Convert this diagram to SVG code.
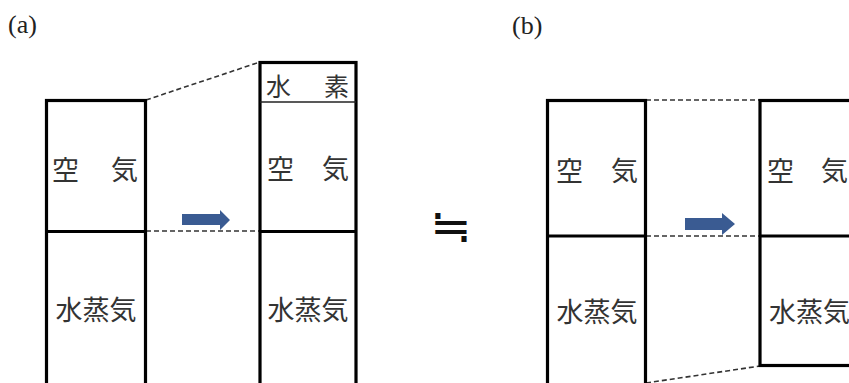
<svg xmlns="http://www.w3.org/2000/svg" width="849" height="383" viewBox="0 0 849 383">
<style>
.box{fill:none;stroke:#000;stroke-width:3.2}
.thin{stroke:#222;stroke-width:1.4}
.dash{fill:none;stroke:#333;stroke-width:1.6;stroke-dasharray:5 3}
.jp{font-family:"Noto Sans CJK JP","Noto Sans CJK SC",sans-serif;font-size:27px;fill:#333}
.lbl{font-family:"Liberation Serif",serif;font-size:26px;fill:#222}
.arr{fill:#3a5b92}
</style>
<rect width="849" height="383" fill="#fff"/>
<text class="lbl" x="8" y="33">(a)</text>
<text class="lbl" x="512" y="34">(b)</text>
<g id="connectors">
<line class="dash" x1="146" y1="100" x2="260" y2="62"/>
<line class="dash" x1="146" y1="231" x2="260" y2="231"/>
<line class="dash" x1="646" y1="100" x2="760" y2="100"/>
<line class="dash" x1="646" y1="236" x2="760" y2="236"/>
<line class="dash" x1="646" y1="383" x2="760" y2="366"/>
<path class="arr" d="M182 214 H220 V210 L230 220 L220 230 V225 H182 Z"/>
<path class="arr" d="M685 218 H722 V213 L735 224 L722 235 V230 H685 Z"/>
</g>
<g id="a-before">
<rect class="box" x="46.5" y="100.5" width="99" height="300"/>
<line class="box" x1="46.5" y1="231.5" x2="145.5" y2="231.5"/>
<text class="jp" y="180"><tspan x="52">空</tspan><tspan x="111">気</tspan></text>
<text class="jp" x="96" y="320" text-anchor="middle">水蒸気</text>
</g>
<g id="a-after">
<rect class="box" x="260" y="62.5" width="96" height="340"/>
<line class="thin" x1="260" y1="102" x2="356" y2="102"/>
<line class="box" x1="260" y1="231.5" x2="356" y2="231.5"/>
<text class="jp" style="font-size:25px" y="96"><tspan x="266">水</tspan><tspan x="324">素</tspan></text>
<text class="jp" y="179"><tspan x="267">空</tspan><tspan x="322">気</tspan></text>
<text class="jp" x="308" y="320" text-anchor="middle">水蒸気</text>
</g>
<text id="approx" transform="translate(451,226) scale(1.3,1.2)" x="0" y="13" text-anchor="middle" style="font-family:'Noto Sans CJK JP',sans-serif;font-size:38px;fill:#111">≒</text>
<g id="b-before">
<rect class="box" x="547.5" y="100.5" width="98" height="300"/>
<line class="box" x1="547.5" y1="236" x2="645.5" y2="236"/>
<text class="jp" y="181"><tspan x="556">空</tspan><tspan x="611">気</tspan></text>
<text class="jp" x="597" y="322" text-anchor="middle">水蒸気</text>
</g>
<g id="b-after">
<rect class="box" x="760" y="100.5" width="120" height="265"/>
<line class="box" x1="760" y1="236" x2="880" y2="236"/>
<text class="jp" y="181"><tspan x="767">空</tspan><tspan x="821">気</tspan></text>
<text class="jp" x="769" y="322">水蒸気</text>
</g>
</svg>
